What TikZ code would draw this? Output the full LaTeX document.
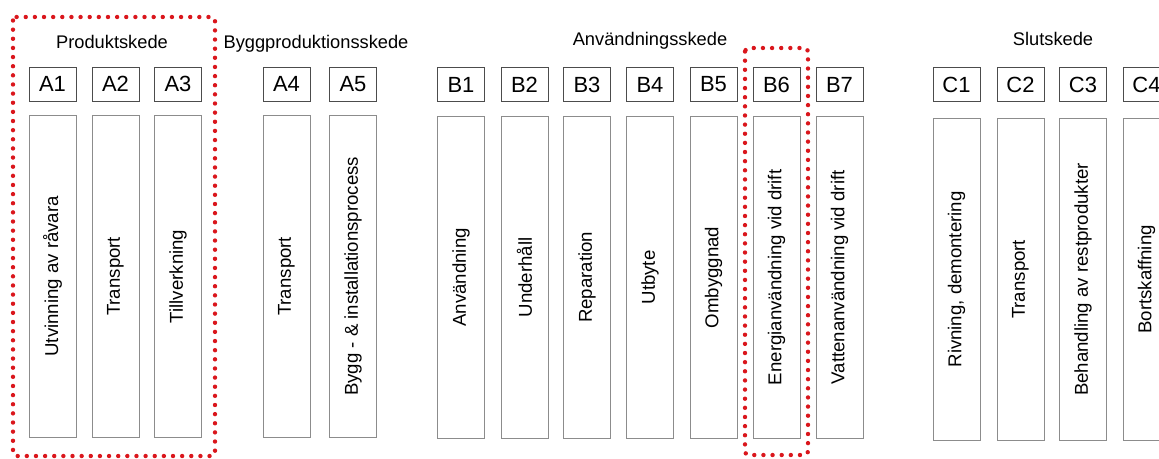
\documentclass[tikz,border=0pt]{standalone}
\usepackage{fontspec}
\setmainfont{Liberation Sans}
\usetikzlibrary{positioning}

\definecolor{framered}{RGB}{218,22,28}

\tikzset{
  codebox/.style={draw=black!70, line width=0.55pt, minimum width=0.94cm,
    minimum height=0.68cm, inner sep=0pt, font=\fontsize{12.5}{14}\selectfont},
  stagebox/.style={draw=black!45, line width=0.5pt, minimum width=0.94cm,
    minimum height=6.44cm, inner sep=0pt, font=\fontsize{10.6}{12}\selectfont},
  heading/.style={anchor=base, inner sep=0pt, font=\fontsize{10.4}{12}\selectfont},
  redframe/.style={draw=framered, line width=2.5pt, line cap=round,
    dash pattern=on 0pt off 5.2pt, rounded corners=2pt},
}

\begin{document}
\begin{tikzpicture}[x=0.02cm,y=-0.02cm]
  \useasboundingbox (0,0) rectangle (1159,458);
  \clip (0,0) rectangle (1159,458);

  % stage headings
  \node[heading] (prod) at (112,48) {Produktskede};
  \node[heading] (bygg) at (316,48) {Byggproduktionsskede};
  \node[heading] (anv)  at (650,45) {Användningsskede};
  \node[heading] (slut) at (1053,45) {Slutskede};

  % modules: code box on top, description box below
  \foreach \name/\x/\code/\txt in {a1/52.5/A1/Utvinning av råvara,
      a2/115.5/A2/Transport, a3/178/A3/Tillverkning,
      a4/286.5/A4/Transport, a5/353/A5/{Bygg - \& installationsprocess}} {
    \node[codebox] (\name) at (\x,84) {\code};
    \node[stagebox, below=0.27cm of \name] (\name-box) {\rotatebox{90}{\txt}};
  }
  \foreach \name/\x/\code/\txt in {b1/461/B1/Användning, b2/524.5/B2/Underhåll,
      b3/587/B3/Reparation, b4/650/B4/Utbyte, b5/713.5/B5/Ombyggnad,
      b6/776.5/B6/Energianvändning vid drift,
      b7/839.5/B7/Vattenanvändning vid drift} {
    \node[codebox] (\name) at (\x,84.5) {\code};
    \node[stagebox, below=0.28cm of \name] (\name-box) {\rotatebox{90}{\txt}};
  }
  \foreach \name/\x/\code/\txt in {c1/956.5/C1/{Rivning, demontering},
      c2/1020.5/C2/Transport, c3/1083/C3/Behandling av restprodukter,
      c4/1146.5/C4/Bortskaffning} {
    \node[codebox] (\name) at (\x,84.5) {\code};
    \node[stagebox, below=0.32cm of \name] (\name-box) {\rotatebox{90}{\txt}};
  }

  % highlighted modules
  \draw[redframe] (13,17) rectangle (215,456);
  \draw[redframe] (745,48) rectangle (808,455);
\end{tikzpicture}
\end{document}
